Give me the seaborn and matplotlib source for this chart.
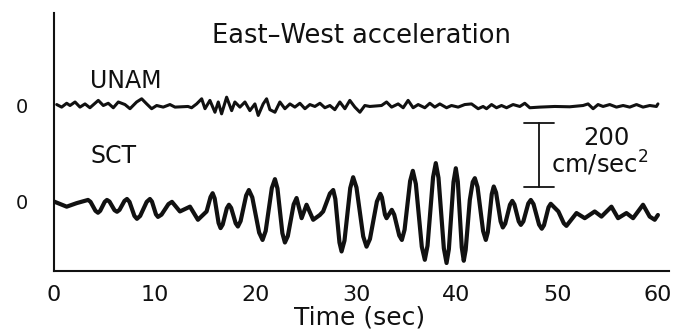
import numpy as np
import pandas as pd
import seaborn as sns
import matplotlib.pyplot as plt

## values, time in sec, acceleration in cm/sec^2
## (peaks, troughs and the shoulders next to them so the waves stay round)
sct_time = [0.0, 1.26, 2.25, 3.38, 3.63, 4.12, 4.37, 4.59, 5.04, 5.26,
            5.51, 6.01, 6.26, 6.51, 7.00, 7.25, 7.50, 7.99, 8.24, 8.56,
            9.21, 9.53, 9.73, 10.13, 10.33, 10.68, 11.37, 11.72, 12.51, 13.51,
            14.30, 14.50, 15.16, 15.55, 15.76, 15.96, 16.35, 16.55, 16.76, 17.17,
            17.38, 17.60, 18.05, 18.27, 18.54, 19.09, 19.36, 19.70, 20.38, 20.72,
            21.03, 21.64, 21.95, 22.20, 22.69, 22.94, 23.23, 23.81, 24.10, 24.60,
            25.09, 25.75, 26.41, 26.74, 27.41, 27.74, 27.95, 28.36, 28.57, 28.86,
            29.43, 29.72, 30.05, 30.72, 31.05, 31.39, 32.08, 32.42, 32.58, 32.88,
            33.04, 33.56, 33.80, 34.30, 34.56, 34.83, 35.38, 35.65, 35.95, 36.54,
            36.84, 37.11, 37.66, 37.93, 38.20, 38.73, 39.00, 39.23, 39.69, 39.92,
            40.12, 40.51, 40.71, 40.90, 41.31, 41.60, 41.81, 42.08, 42.63, 42.90,
            43.10, 43.49, 43.69, 43.92, 44.37, 44.59, 44.83, 45.30, 45.53, 45.74,
            46.17, 46.38, 46.63, 47.12, 47.37, 47.64, 48.19, 48.46, 48.68, 49.13,
            49.35, 49.85, 50.11, 50.65, 50.91, 51.91, 52.73, 53.72, 54.39, 55.38,
            56.04, 56.87, 57.53, 58.52, 59.18, 59.68, 60.0]
sct_acc = [1, -15, -4, 6, 0, -28, -34, -28, 0, 6,
           1, -26, -31, -25, 3, 9, 0, -44, -53, -44,
           0, 9, 1, -39, -47, -40, -7, 0, -30, -15,
           -56, -50, -30, 15, 27, 11, -66, -82, -71, -20,
           -9, -19, -67, -77, -60, 20, 37, 14, -96, -119,
           -91, 43, 71, 42, -98, -127, -107, -8, 12, -51,
           -9, -56, -41, -30, 26, 37, 9, -127, -155, -121,
           43, 77, 45, -108, -140, -116, 1, 25, 14, -40,
           -51, -25, -40, -105, -119, -87, 65, 97, 56, -140,
           -181, -137, 77, 121, 75, -145, -191, -148, 62, 105,
           63, -142, -184, -150, 6, 62, 74, 46, -91, -119,
           -95, 24, 48, 29, -61, -80, -68, -9, 3, -8,
           -61, -72, -61, -5, 6, -7, -71, -84, -73, -17,
           -6, -22, -30, -67, -75, -35, -51, -30, -46, -15,
           -51, -35, -51, -9, -46, -56, -41]

unam_time = [0.27, 0.76, 1.26, 1.59, 2.09, 2.58, 3.08, 3.57, 4.40, 4.90,
             5.39, 5.89, 6.39, 7.05, 7.55, 8.21, 8.71, 9.21, 9.70, 10.20,
             10.85, 11.52, 12.02, 13.31, 13.67, 14.17, 14.67, 15.00, 15.49, 15.99,
             16.32, 16.65, 17.15, 17.65, 17.97, 18.47, 18.97, 19.46, 19.96, 20.29,
             20.78, 21.12, 21.45, 21.95, 22.44, 22.94, 23.44, 23.93, 24.43, 24.93,
             25.42, 25.92, 26.42, 26.91, 27.41, 27.90, 28.40, 28.90, 29.39, 29.89,
             30.39, 30.88, 31.38, 32.54, 33.04, 33.54, 34.19, 34.69, 35.18, 35.68,
             36.18, 36.84, 37.34, 37.83, 38.33, 39.00, 39.49, 40.15, 40.81, 41.48,
             42.14, 42.63, 42.97, 43.47, 43.96, 44.46, 44.96, 45.61, 46.28, 46.77,
             47.27, 48.26, 49.75, 51.24, 52.56, 53.06, 53.56, 54.05, 54.55, 55.21,
             55.88, 56.54, 57.20, 57.87, 58.52, 59.19, 59.85, 60.0]
unam_acc = [4, -4, 8, 1, 12, -4, 6, -6, 17, 1,
            8, -6, 12, 4, -9, 12, 22, 6, -9, 1,
            -4, 4, -4, -2, -6, 6, 22, -9, 17, -20,
            12, -25, 27, -15, 12, -4, 12, -15, 6, -30,
            6, 22, -12, -20, 12, -9, 6, -4, 8, -9,
            4, -2, 8, -6, 1, -12, 12, -9, 17, -4,
            -20, 1, -2, 1, 12, -4, 6, -6, 17, -6,
            4, -6, 8, -4, 6, -6, 1, -4, 4, 6,
            -9, -2, -9, 4, -6, 1, -6, 4, -2, 8,
            -6, -4, -2, -3, 1, 6, -9, 4, -2, 4,
            -4, 1, -4, 4, -4, 1, -2, 6]

## UNAM trace is drawn shifted up so both fit on one axis
unam_offset = 300
scale_bar = 200
xticks = [0, 10, 20, 30, 40, 50, 60]

df = pd.concat([
    pd.DataFrame({"time": unam_time, "acc": np.array(unam_acc) + unam_offset, "station": "UNAM"}),
    pd.DataFrame({"time": sct_time, "acc": sct_acc, "station": "SCT"}),
])

sns.set_theme(style="white")
plt.rcParams["font.family"] = ["DejaVu Sans"]
ink = "#111111"

W, H = 677, 333
fig = plt.figure(figsize=(W / 100, H / 100), dpi=100)
ax = fig.add_axes([54 / W, 62 / H, 615 / W, 258 / H])

sns.lineplot(data=df[df.station == "UNAM"], x="time", y="acc", color=ink,
             lw=2.2, ax=ax, errorbar=None, solid_joinstyle="round")
sns.lineplot(data=df[df.station == "SCT"], x="time", y="acc", color=ink,
             lw=3.0, ax=ax, errorbar=None, solid_joinstyle="round")

## scale bar: 200 cm/sec^2 tall
bar_t = 48.16
ax.plot([bar_t, bar_t], [47, 47 + scale_bar], color=ink, lw=1.3)
ax.plot([bar_t - 1.5, bar_t + 1.5], [47, 47], color=ink, lw=1.3)
ax.plot([bar_t - 1.5, bar_t + 1.5], [47 + scale_bar] * 2, color=ink, lw=1.3)

ax.set_xlim(0, 61.1)
ax.set_ylim(-216, 590)
ax.set_xticks(xticks)
ax.set_xticklabels([str(t) for t in xticks], fontsize=16, color=ink)
ax.set_yticks([0, unam_offset])
ax.set_yticklabels(["0", "0"], fontsize=14, color=ink)
ax.tick_params(axis="x", direction="in", length=7.5, width=1.5, pad=10, colors=ink)
ax.tick_params(axis="y", length=0, pad=19, colors=ink)
ax.set_xlabel("")
ax.set_ylabel("")
for s in ["top", "right"]:
    ax.spines[s].set_visible(False)
for s in ["left", "bottom"]:
    ax.spines[s].set_color(ink)
    ax.spines[s].set_linewidth(1.5)

fig.text(361 / W, 1 - 43 / H, "East\u2013West acceleration", ha="center",
         va="baseline", fontsize=18.5, color=ink)
fig.text(90 / W, 1 - 88 / H, "UNAM", ha="left", va="baseline", fontsize=17, color=ink)
fig.text(90 / W, 1 - 163 / H, "SCT", ha="left", va="baseline", fontsize=17, color=ink)
fig.text(606 / W, 1 - 145 / H, "200", ha="center", va="baseline", fontsize=17.5, color=ink)
fig.text(600 / W, 1 - 173 / H, "cm/sec$^2$", ha="center", va="baseline",
         fontsize=17.5, color=ink)
fig.text(360 / W, 1 - 325 / H, "Time (sec)", ha="center", va="baseline",
         fontsize=18, color=ink)

fig.savefig("out.png", dpi=100)
